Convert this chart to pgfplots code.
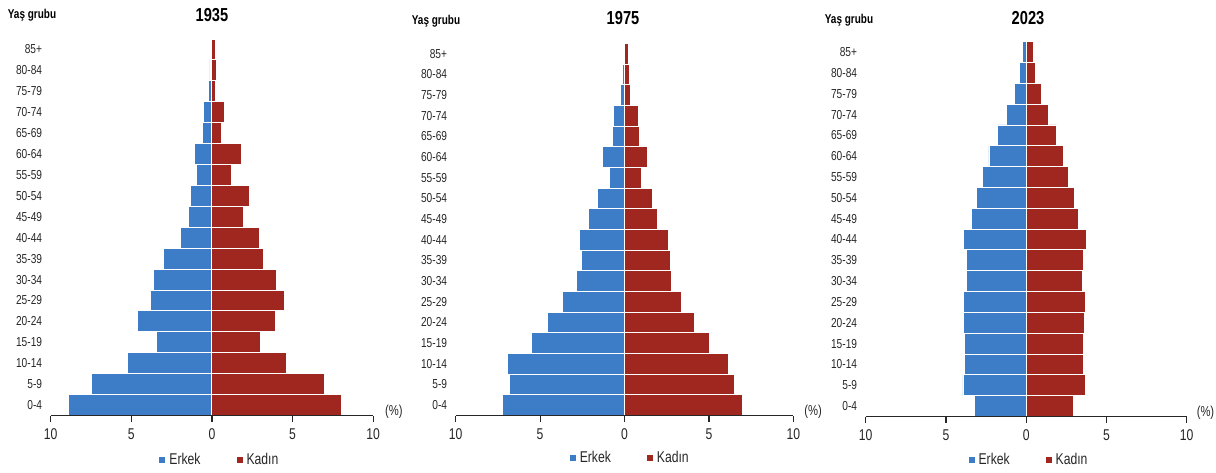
\documentclass[border=0pt]{standalone}
\usepackage{pgfplots}
\usepackage{pgfplotstable}
\pgfplotsset{compat=1.18}
\usepackage{fontspec}
\setmainfont{Liberation Sans}[FakeStretch=0.78]
\definecolor{cblue}{RGB}{61,125,200}
\definecolor{cred}{RGB}{160,38,32}

\pgfplotstableread{
idx male female
0 -8.90 8.06
1 -7.50 7.00
2 -5.24 4.60
3 -3.46 3.02
4 -4.62 3.97
5 -3.83 4.47
6 -3.62 4.02
7 -3.00 3.19
8 -1.95 2.96
9 -1.45 1.97
10 -1.35 2.36
11 -0.95 1.20
12 -1.08 1.86
13 -0.58 0.62
14 -0.52 0.77
15 -0.19 0.19
16 -0.12 0.31
17 -0.06 0.19
}\tA
\pgfplotstableread{
idx male female
0 -7.21 6.96
1 -6.84 6.54
2 -6.94 6.13
3 -5.49 5.06
4 -4.55 4.17
5 -3.66 3.36
6 -2.85 2.79
7 -2.55 2.73
8 -2.65 2.63
9 -2.11 1.98
10 -1.60 1.68
11 -0.91 0.99
12 -1.28 1.36
13 -0.73 0.89
14 -0.65 0.83
15 -0.22 0.36
16 -0.12 0.32
17 -0.06 0.22
}\tB
\pgfplotstableread{
idx male female
0 -3.22 2.97
1 -3.94 3.69
2 -3.82 3.57
3 -3.82 3.57
4 -3.88 3.63
5 -3.88 3.69
6 -3.71 3.51
7 -3.71 3.57
8 -3.88 3.73
9 -3.42 3.28
10 -3.09 3.01
11 -2.70 2.63
12 -2.32 2.34
13 -1.80 1.89
14 -1.22 1.39
15 -0.75 0.95
16 -0.41 0.56
17 -0.25 0.46
}\tC

\pgfplotsset{
  pyr/.style={
    anchor=south west,
    scale only axis,
    clip=false,
    xbar,
    xmin=-10, xmax=10, ymin=-0.5, ymax=17.5,
    axis x line=bottom, axis y line=left,
    x axis line style={-, black!85, line width=0.6pt},
    y axis line style={draw=none},
    xtick={-10,-5,0,5,10}, xticklabels={10,5,0,5,10},
    ytick={0,...,17},
    yticklabels={0-4,5-9,10-14,15-19,20-24,25-29,30-34,35-39,40-44,45-49,50-54,55-59,60-64,65-69,70-74,75-79,80-84,85+},
    tick align=outside,
    x tick style={black!85, line width=0.6pt},
    y tick style={draw=none},
    major tick length=3pt,
    axis on top,
    /pgf/number format/assume math mode=true,
    xticklabel style={font=\fontsize{7.8}{8}\selectfont, text=black!85},
    yticklabel style={font=\fontsize{6.5}{7}\selectfont, text=black!85, xshift=2.2pt},
    legend columns=2,
    legend image code/.code={\fill[#1,draw=none] (0pt,-1.5pt) rectangle (3pt,1.5pt);},
    legend style={draw=none, fill=none, anchor=center,
      font=\fontsize{7.8}{8}\selectfont, text=black!85,
      /tikz/every even column/.append style={column sep=16pt}},
  },
  mbar/.style={bar width=1, bar shift=0pt, fill=cblue, draw=white, line width=0.45pt},
  fbar/.style={bar width=1, bar shift=0pt, fill=cred, draw=white, line width=0.45pt},
}

\begin{document}
\begin{tikzpicture}
\path[use as bounding box] (0,0) rectangle (608pt,236pt);

% 1935
\begin{axis}[pyr, at={(25.35pt,28.25pt)}, width=161.2pt, height=188.25pt,
  legend style={at={(0.528,0)}, yshift=-22.25pt}]
\addplot[mbar] table[x=male,y=idx]{\tA};
\addplot[fbar] table[x=female,y=idx]{\tA};
\legend{Erkek,Kadın}
\node[anchor=west, font=\fontsize{7.2}{8}\selectfont, text=black!85] at (rel axis cs:1,0) [xshift=2.5pt, yshift=2pt] {(\%)};
\end{axis}

% 1975
\begin{axis}[pyr, at={(227.85pt,28.25pt)}, width=168.8pt, height=186.1pt,
  legend style={at={(0.52,0)}, yshift=-21.25pt}]
\addplot[mbar] table[x=male,y=idx]{\tB};
\addplot[fbar] table[x=female,y=idx]{\tB};
\legend{Erkek,Kadın}
\node[anchor=west, font=\fontsize{7.2}{8}\selectfont, text=black!85] at (rel axis cs:1,0) [xshift=2pt, yshift=2pt] {(\%)};
\end{axis}

% 2023
\begin{axis}[pyr, at={(432.85pt,27.75pt)}, width=160.5pt, height=187.4pt,
  legend style={at={(0.512,0)}, yshift=-21.75pt}]
\addplot[mbar] table[x=male,y=idx]{\tC};
\addplot[fbar] table[x=female,y=idx]{\tC};
\legend{Erkek,Kadın}
\node[anchor=west, font=\fontsize{7.2}{8}\selectfont, text=black!85] at (rel axis cs:1,0) [xshift=1.5pt, yshift=2pt] {(\%)};
\end{axis}

% titles
\node[font=\fontsize{9.4}{10}\selectfont\bfseries] at (106pt,228.5pt) {1935};
\node[font=\fontsize{9.4}{10}\selectfont\bfseries] at (311.5pt,226.75pt) {1975};
\node[font=\fontsize{9.4}{10}\selectfont\bfseries] at (514pt,227pt) {2023};
% Yaş grubu
\node[font=\fontsize{6.4}{7}\selectfont\bfseries] at (16pt,228.5pt) {Yaş grubu};
\node[font=\fontsize{6.4}{7}\selectfont\bfseries] at (218pt,225.5pt) {Yaş grubu};
\node[font=\fontsize{6.4}{7}\selectfont\bfseries] at (424.5pt,225.75pt) {Yaş grubu};
\end{tikzpicture}
\end{document}
